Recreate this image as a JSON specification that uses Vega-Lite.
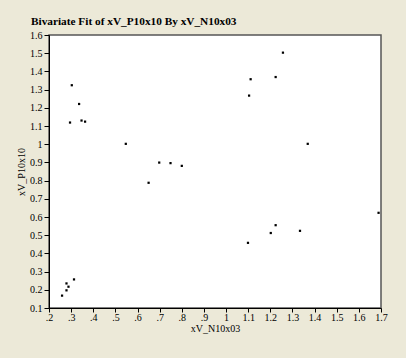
{
  "$schema": "https://vega.github.io/schema/vega-lite/v6.json",
  "autosize": {"type": "none"},
  "width": 332,
  "height": 273,
  "padding": {"left": 49, "top": 35, "right": 25, "bottom": 50},
  "background": "#ECE9D8",
  "title": {
    "text": "Bivariate Fit of xV_P10x10 By xV_N10x03",
    "anchor": "start",
    "frame": "group",
    "dx": -18,
    "dy": 18,
    "offset": 12,
    "baseline": "alphabetic",
    "font": "Liberation Serif",
    "fontSize": 11.3,
    "fontWeight": "bold",
    "color": "#000000"
  },
  "config": {
    "view": {"fill": "#FFFFFF", "stroke": "#555555", "strokeWidth": 1.5},
    "axis": {
      "grid": false,
      "domainColor": "#000000",
      "tickColor": "#000000",
      "tickSize": 5,
      "labelFont": "Liberation Serif",
      "labelFontSize": 10,
      "labelColor": "#000000",
      "titleFont": "Liberation Serif",
      "titleFontSize": 10,
      "titleFontWeight": "normal",
      "titleColor": "#000000",
      "labelPadding": 2
    }
  },
  "data": {
    "values": [
      {"x": 0.303, "y": 1.324},
      {"x": 0.336, "y": 1.221},
      {"x": 0.295, "y": 1.119},
      {"x": 0.347, "y": 1.130},
      {"x": 0.363, "y": 1.124},
      {"x": 0.313, "y": 0.257},
      {"x": 0.279, "y": 0.235},
      {"x": 0.288, "y": 0.217},
      {"x": 0.279, "y": 0.197},
      {"x": 0.259, "y": 0.168},
      {"x": 0.547, "y": 1.002},
      {"x": 0.698, "y": 0.899},
      {"x": 0.749, "y": 0.896},
      {"x": 0.800, "y": 0.881},
      {"x": 0.650, "y": 0.788},
      {"x": 1.104, "y": 1.267},
      {"x": 1.257, "y": 1.503},
      {"x": 1.111, "y": 1.357},
      {"x": 1.224, "y": 1.369},
      {"x": 1.369, "y": 1.002},
      {"x": 1.689, "y": 0.623},
      {"x": 1.224, "y": 0.555},
      {"x": 1.202, "y": 0.512},
      {"x": 1.334, "y": 0.524},
      {"x": 1.099, "y": 0.458}
    ]
  },
  "mark": {"type": "square", "size": 5, "color": "#000000", "opacity": 1},
  "encoding": {
    "x": {
      "field": "x",
      "type": "quantitative",
      "scale": {"domain": [0.2, 1.7], "nice": false, "zero": false},
      "axis": {
        "title": "xV_N10x03",
        "values": [0.2, 0.3, 0.4, 0.5, 0.6, 0.7, 0.8, 0.9, 1, 1.1, 1.2, 1.3, 1.4, 1.5, 1.6, 1.7],
        "labelExpr": "datum.value < 0.999 ? '.' + format(datum.value * 10, '.0f') : format(datum.value, '~g')",
        "tickSize": 4,
        "labelPadding": 0,
        "titlePadding": 1,
        "labelFlush": false,
        "labelOverlap": false
      }
    },
    "y": {
      "field": "y",
      "type": "quantitative",
      "scale": {"domain": [0.1, 1.6], "nice": false, "zero": false},
      "axis": {
        "title": "xV_P10x10",
        "values": [0.1, 0.2, 0.3, 0.4, 0.5, 0.6, 0.7, 0.8, 0.9, 1, 1.1, 1.2, 1.3, 1.4, 1.5, 1.6],
        "format": "~g",
        "titlePadding": 3,
        "labelFlush": false,
        "labelOverlap": false
      }
    }
  }
}
